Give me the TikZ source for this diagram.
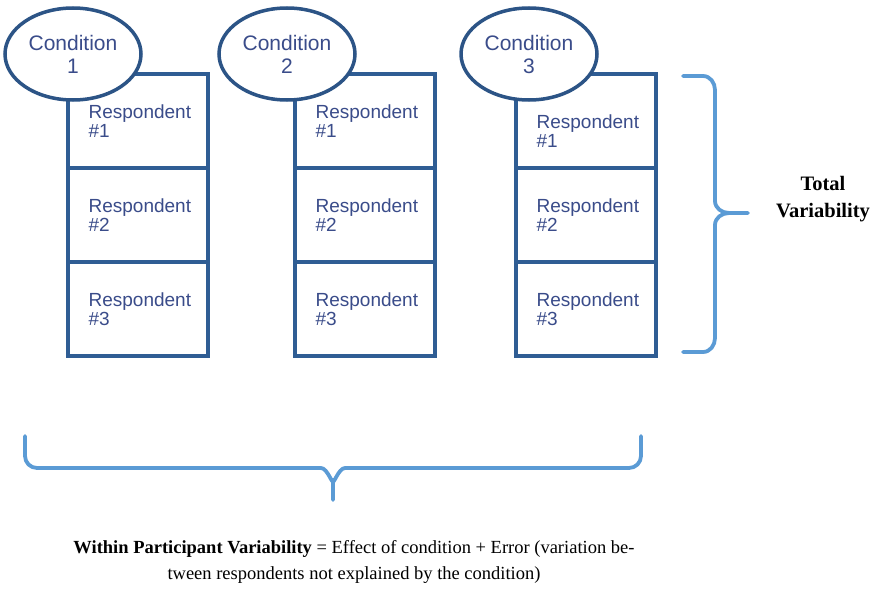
\documentclass[tikz,border=0pt]{standalone}
\usepackage{fontspec}
\setmainfont{Liberation Serif}
\newfontfamily\arialfont{Liberation Sans}
\usetikzlibrary{shapes.geometric}
\definecolor{boxblue}{HTML}{2F5D94}
\definecolor{ellblue}{HTML}{2C5486}
\definecolor{txtblue}{HTML}{3A4C8A}
\definecolor{braceblue}{HTML}{5B9BD5}
\begin{document}
\begin{tikzpicture}[x=1pt,y=-1pt,
  cell/.style={draw=boxblue,line width=3.2pt,minimum width=140pt,minimum height=94pt,inner sep=0pt,fill=white},
  celltext/.style={anchor=west,align=left,inner sep=0pt,text=txtblue,font=\arialfont\fontsize{19}{19}\selectfont},
  cond/.style={ellipse,draw=ellblue,line width=3.5pt,fill=white,minimum width=136pt,minimum height=92pt,inner sep=0pt,align=center,text=txtblue,font=\arialfont\fontsize{21}{23}\selectfont},
  brace/.style={draw=braceblue,line width=3.8pt,line cap=round,line join=round},
  blacktext/.style={align=center,inner sep=0pt,text=black}]
\useasboundingbox (0,0) rectangle (877,589);
\fill[white] (0,0) rectangle (877,589);
% columns
\foreach \c/\x in {1/138,2/365,3/586}{
  \node[cell] (b\c1) at (\x,121) {};
  \node[cell] (b\c2) at (\x,215) {};
  \node[cell] (b\c3) at (\x,309) {};
}
\node[celltext] (t11) at ([xshift=22pt]b11.west) {Respondent\\\#1};
\node[celltext] (t12) at ([xshift=22pt]b12.west) {Respondent\\\#2};
\node[celltext] (t13) at ([xshift=22pt]b13.west) {Respondent\\\#3};
\node[celltext] (t21) at ([xshift=22pt]b21.west) {Respondent\\\#1};
\node[celltext] (t22) at ([xshift=22pt]b22.west) {Respondent\\\#2};
\node[celltext] (t23) at ([xshift=22pt]b23.west) {Respondent\\\#3};
\node[celltext] (t31) at ([xshift=22pt,yshift=-10pt]b31.west) {Respondent\\\#1};
\node[celltext] (t32) at ([xshift=22pt]b32.west) {Respondent\\\#2};
\node[celltext] (t33) at ([xshift=22pt]b33.west) {Respondent\\\#3};
% conditions
\node[cond] (c1) at (73,54) {Condition\\1};
\node[cond] (c2) at (287,54) {Condition\\2};
\node[cond] (c3) at (529,54) {Condition\\3};
% right brace
\coordinate (rt) at (683,76);
\coordinate (rb) at (683,352);
\coordinate (rtip) at (748,213);
\draw[brace] (rt) -- (703,76) to[out=0,in=90] (715,90) -- (715,201) to[out=-90,in=180] (729,213) -- (rtip)
  (rtip) -- (729,213) to[out=180,in=90] (715,225) -- (715,338) to[out=-90,in=0] (703,352) -- (rb);
\node[blacktext,font=\bfseries\fontsize{20.5}{27}\selectfont] (tv) at (823,199) {Total\\Variability};
% bottom brace
\coordinate (bl) at (25,436);
\coordinate (br) at (641,436);
\coordinate (btip) at (333,500);
\draw[brace] (bl) -- (25,456) to[out=-90,in=180] (37,468) -- (321,468) to[out=0,in=-90] (333,480) -- (btip)
  (btip) -- (333,480) to[out=-90,in=180] (345,468) -- (629,468) to[out=0,in=-90] (641,456) -- (br);
\node[blacktext,font=\fontsize{18.5}{26}\selectfont] (wp) at (354,562) {\textbf{Within Participant Variability} = Effect of condition + Error (variation be-\\tween respondents not explained by the condition)};
\end{tikzpicture}
\end{document}
